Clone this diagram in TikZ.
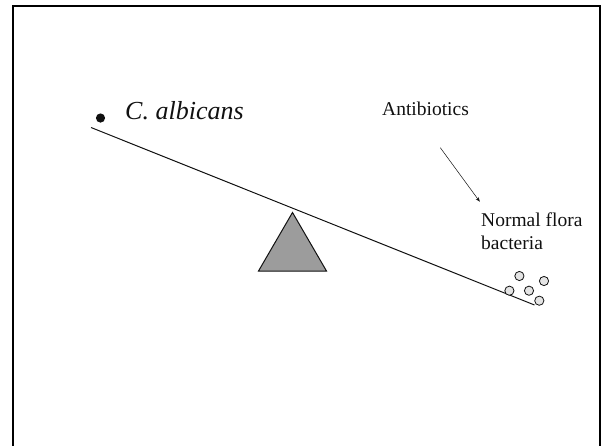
\documentclass[tikz,border=0pt]{standalone}
\usepackage{fontspec}
\setmainfont{Liberation Serif}
\usetikzlibrary{arrows.meta,positioning}
\definecolor{pivotgray}{HTML}{9C9C9C}
\definecolor{floragray}{HTML}{E4E4E4}
\definecolor{ink}{HTML}{111111}

\begin{document}
\begin{tikzpicture}[
  x=1pt,y=-1pt,
  line cap=butt,line join=miter,
  label/.style={inner sep=0pt,anchor=base west,text=ink},
  lever/.style={draw=ink,line width=1pt},
  pivot/.style={draw=ink,line width=1pt,fill=pivotgray},
  microbe/.style={draw=ink,line width=.8pt,fill=floragray},
  arrow/.style={-{Stealth[length=4.5pt,width=3.5pt]},line width=.5pt,draw=ink}
]
\useasboundingbox (0,0) rectangle (602,445);
% Slide frame
\begin{scope}
  \clip (0,0) rectangle (602,445);
  \draw[line width=2pt,black] (13,6) rectangle (600,460);
\end{scope}

% Seesaw
\coordinate (leverL) at (91,127.5);
\coordinate (leverR) at (534.5,305);
\draw[lever] (leverL)--(leverR);
\draw[pivot] (292.5,212.5)--(326.5,271)--(258.5,271)--cycle;

% Yeast side
\fill[ink] (100.5,118) circle (4.6);
\node[label,font=\fontsize{26}{30}\selectfont\itshape] (candida) at (125,119) {C. albicans};

% Antibiotic side
\node[label,font=\fontsize{19.5}{23}\selectfont] (abx) at (382,115) {Antibiotics};
\node[label,font=\fontsize{19.5}{23}\selectfont,align=left,anchor=north west] (flora) at (481,213)
  {Normal flora\\bacteria};
\coordinate (abxtail) at (440.3,147.7);
\coordinate (abxhead) at (479.8,201.7);
\draw[arrow] (abxtail)--(abxhead);

% Bacteria cluster
\foreach \bx/\by in {519.4/276,544/281,509.4/290.7,529/290.7,539.3/300.7}
  {\draw[microbe] (\bx,\by) circle (4.6);}
\end{tikzpicture}
\end{document}
